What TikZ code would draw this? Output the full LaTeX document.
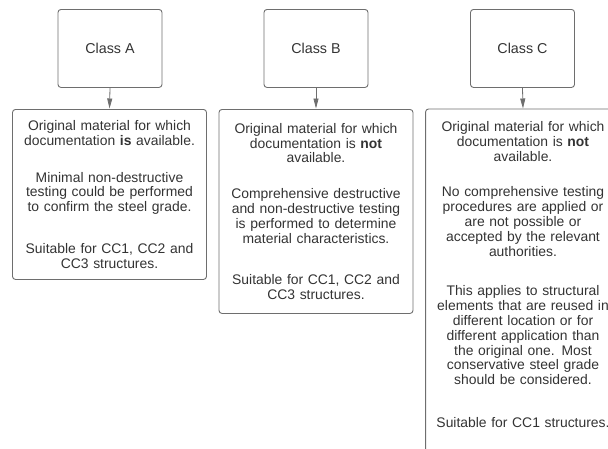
\documentclass[tikz,border=0pt]{standalone}
\usepackage{fontspec}
\setmainfont{Liberation Sans}
\usetikzlibrary{arrows.meta}
\definecolor{txt}{HTML}{333333}
\definecolor{edge}{HTML}{6E6E6E}
\tikzset{
  classbox/.style={draw=edge, line width=0.9pt, rounded corners=3pt, minimum width=104pt, minimum height=78pt, anchor=north, text=txt, font=\fontsize{14.3}{14.8}\selectfont},
  descbox/.style={draw=edge, line width=0.9pt, rounded corners=3pt, minimum width=194pt, text width=188pt, inner sep=3pt, align=center, anchor=north, text=txt, font=\fontsize{13.9}{14.8}\selectfont},
  link/.style={draw=edge, line width=0.8pt, -{Triangle[width=5pt,length=10pt]}, shorten >=0.5pt}
}
\begin{document}
\begin{tikzpicture}[x=1pt,y=-1pt]
\clip (0,0) rectangle (608,448);
\useasboundingbox (0,0) rectangle (608,448);
\node[classbox] (ca) at (110,9) {Class A};
\node[classbox] (cb) at (316,9) {Class B};
\node[classbox] (cc) at (522.5,9) {Class C};
\node[descbox, minimum height=170pt] (da) at (109.5,109) {Original material for which\\documentation \textbf{is} available.\\[22pt]Minimal non-destructive\\testing could be performed\\to confirm the steel grade.\\[27pt]Suitable for CC1, CC2 and\\CC3 structures.};
\node[descbox, minimum height=204pt] (db) at (316,109) {Original material for which\\documentation is \textbf{not}\\available.\\[21pt]Comprehensive destructive\\and non-destructive testing\\is performed to determine\\material characteristics.\\[27pt]Suitable for CC1, CC2 and\\CC3 structures.};
\node[descbox, draw=none, minimum height=330pt] (dc) at (523,109) {Original material for which\\documentation is \textbf{not}\\available.\\[21pt]No comprehensive testing\\procedures are applied or\\are not possible or\\accepted by the relevant\\authorities.\\[25pt]This applies to structural\\elements that are reused in\\different location or for\\different application than\\the original one. Most\\conservative steel grade\\should be considered.\\[28pt]Suitable for CC1 structures.};
\draw[edge, line width=0.9pt, rounded corners=3pt] (dc.north west) rectangle (dc.east |- 0,480);
\draw[link] (ca.south) -- (da.north);
\draw[link] (cb.south) -- (db.north);
\draw[link] (cc.south) -- (dc.north);
\end{tikzpicture}
\end{document}
